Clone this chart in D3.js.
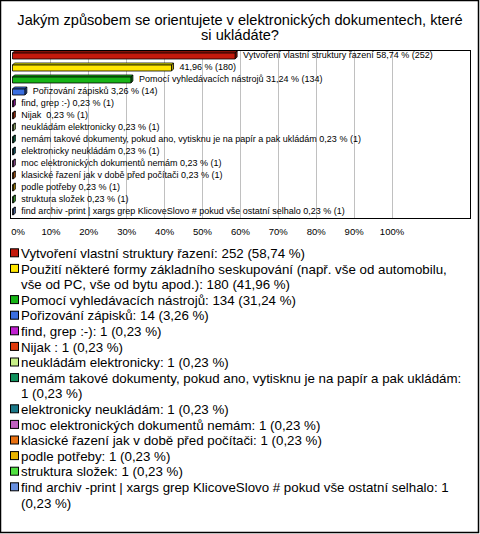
<!DOCTYPE html>
<html><head><meta charset="utf-8">
<script src="https://cdn.jsdelivr.net/npm/d3@7"></script>
<style>
body{margin:0;background:#fff;}
svg text{font-family:"Liberation Sans",Arial,sans-serif;fill:#000;}
</style></head>
<body><svg id="c" width="480" height="534"></svg>
<script>
const titleLines = ["Jakým způsobem se orientujete v elektronických dokumentech, které", "si ukládáte?"];
const categories = [
  "Vytvoření vlastní struktury řazení",
  "Použití některé formy základního seskupování (např. vše od automobilu, vše od PC, vše od bytu apod.)",
  "Pomocí vyhledávacích nástrojů",
  "Pořizování zápisků",
  "find, grep :-)",
  "Nijak ",
  "neukládám elektronicky",
  "nemám takové dokumenty, pokud ano, vytisknu je na papír a pak ukládám",
  "elektronicky neukládám",
  "moc elektronických dokumentů nemám",
  "klasické řazení jak v době před počítači",
  "podle potřeby",
  "struktura složek",
  "find archiv -print | xargs grep KlicoveSlovo # pokud vše ostatní selhalo"
];
const barNames = [
  "Vytvoření vlastní struktury řazení", "", "Pomocí vyhledávacích nástrojů", "Pořizování zápisků",
  "find, grep :-)", "Nijak ", "neukládám elektronicky",
  "nemám takové dokumenty, pokud ano, vytisknu je na papír a pak ukládám",
  "elektronicky neukládám", "moc elektronických dokumentů nemám",
  "klasické řazení jak v době před počítači", "podle potřeby", "struktura složek",
  "find archiv -print | xargs grep KlicoveSlovo # pokud vše ostatní selhalo"
];
const counts = [252, 180, 134, 14, 1, 1, 1, 1, 1, 1, 1, 1, 1, 1];
const percents = [58.74, 41.96, 31.24, 3.26, 0.23, 0.23, 0.23, 0.23, 0.23, 0.23, 0.23, 0.23, 0.23, 0.23];
const colors = ["#c41a0c", "#ffe600", "#16b416", "#3a6ee0", "#c020d0", "#e03a0c", "#c8f088",
  "#10905c", "#1a7888", "#c060c0", "#e87010", "#e8b400", "#50e040", "#6890e0"];
const ticks = [0, 10, 20, 30, 40, 50, 60, 70, 80, 90, 100];

const svg = d3.select("#c");
const fmt = v => v.toFixed(2).replace(".", ",");

// outer border
svg.append("rect").attr("x", 0.5).attr("y", 0.5).attr("width", 478).attr("height", 532)
  .attr("fill", "#fff").attr("stroke", "#000").attr("stroke-width", 1.5);

// title
svg.append("g").selectAll("text").data(titleLines).join("text")
  .attr("x", 240).attr("y", (d, i) => 24.5 + i * 15)
  .attr("text-anchor", "middle").attr("font-size", 14.6).text(d => d);

const plot = {l: 10.5, t: 50.5, r: 470.5, b: 218.5};
const x = d3.scaleLinear().domain([0, 100]).range([12.5, 391.5]);
const y = d3.scaleBand().domain(categories).range([50, 218]).paddingInner(0.5).paddingOuter(0.25);

svg.append("rect").attr("x", plot.l).attr("y", plot.t).attr("width", plot.r - plot.l).attr("height", plot.b - plot.t)
  .attr("fill", "#fff").attr("stroke", "#000").attr("stroke-width", 1);

// gridlines
svg.append("g").selectAll("line").data(ticks.filter(t => t > 0)).join("line")
  .attr("x1", d => Math.round(x(d)) + 0.5).attr("x2", d => Math.round(x(d)) + 0.5)
  .attr("y1", plot.t + 0.5).attr("y2", plot.b - 0.5)
  .attr("stroke", "#c0c0c0").attr("stroke-width", 1);

// axis tick labels
const axis = d3.axisBottom(x).tickValues(ticks).tickSize(0).tickPadding(0).tickFormat(d => d + "%");
const ag = svg.append("g").attr("transform", "translate(0,228)").call(axis);
ag.select(".domain").remove();
ag.selectAll("text").attr("font-size", 9.5).attr("font-family", "Liberation Sans,Arial,sans-serif")
  .attr("dy", "0.71em").attr("dx", (d) => d === 0 ? 5 : 0);

// bars (3D)
const d3d = 2;
const rows = categories.map((c, i) => ({c, i, v: percents[i], col: colors[i]}));
const bg = svg.append("g");
rows.forEach(r => {
  const x0 = x(0), x1 = x(r.v), y0 = y(r.c), h = y.bandwidth();
  const darker = d3.color(r.col).darker(0.9).formatHex();
  const g = bg.append("g").attr("stroke", "#000").attr("stroke-width", 0.8).attr("stroke-linejoin", "round");
  g.append("polygon").attr("points", [[x0, y0], [x0 + d3d, y0 - d3d], [x1 + d3d, y0 - d3d], [x1, y0]].join(" "))
    .attr("fill", d3.color(r.col).brighter(0.3).formatHex());
  g.append("polygon").attr("points", [[x1, y0], [x1 + d3d, y0 - d3d], [x1 + d3d, y0 + h - d3d], [x1, y0 + h]].join(" "))
    .attr("fill", darker);
  g.append("rect").attr("x", x0).attr("y", y0).attr("width", Math.max(0, x1 - x0)).attr("height", h).attr("fill", r.col);
});

// bar labels
svg.append("g").selectAll("text").data(rows).join("text")
  .attr("x", d => x(d.v) + 8).attr("y", d => y(d.c) + y.bandwidth() / 2 - 1)
  .attr("dy", "0.35em").attr("font-size", 9)
  .style("white-space", "pre")
  .text(d => (barNames[d.i] ? barNames[d.i] + " " : "") + fmt(d.v) + " % (" + counts[d.i] + ")");

// legend with wrapping
const lg = svg.append("g");
const lh = 15.6, maxW = 445, fs = 13.3;
let line = 0;
const meas = lg.append("text").attr("font-size", fs).style("white-space", "pre");
rows.forEach(r => {
  const label = categories[r.i] + ": " + counts[r.i] + " (" + fmt(r.v) + " %)";
  const words = label.split(" ");
  const lines = [];
  let cur = "";
  words.forEach(w => {
    const test = cur === "" ? w : cur + " " + w;
    meas.text(test);
    if (meas.node().getComputedTextLength() > maxW && cur !== "") { lines.push(cur); cur = w; }
    else cur = test;
  });
  lines.push(cur);
  const cy = 253.3 + line * lh;
  lg.append("rect").attr("x", 10.5).attr("y", cy - 4.5).attr("width", 8).attr("height", 8)
    .attr("fill", r.col).attr("stroke", "#000").attr("stroke-width", 1);
  lines.forEach((t, k) => {
    lg.append("text").attr("x", 21).attr("y", cy + k * lh).attr("dy", "0.35em")
      .attr("font-size", fs).style("white-space", "pre").text(t);
  });
  line += lines.length;
});
meas.remove();
</script></body></html>
